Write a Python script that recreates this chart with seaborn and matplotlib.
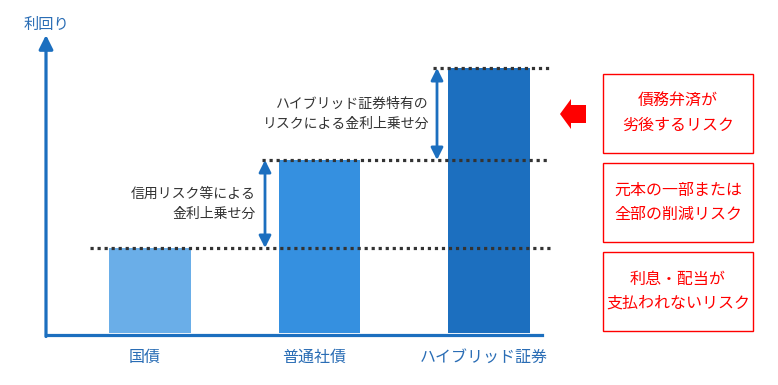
import matplotlib
matplotlib.use("Agg")
import matplotlib.pyplot as plt
import matplotlib.transforms as mtransforms
import seaborn as sns
import pandas as pd
from matplotlib.patches import Rectangle, Polygon

# ---- data ----
categories = ["国債", "普通社債", "ハイブリッド証券"]
yields = [0.85, 1.73, 2.65]
bar_colors = ["#6aaee8", "#3590e0", "#1c6fbf"]
spread_labels = ["信用リスク等による\n金利上乗せ分", "ハイブリッド証券特有の\nリスクによる金利上乗せ分"]
risk_boxes = ["債務弁済が\n劣後するリスク", "元本の一部または\n全部の削減リスク", "利息・配当が\n支払われないリスク"]
y_label = "利回り"

sns.set_theme(style="white")
plt.rcParams["font.family"] = ["Noto Sans CJK JP", "DejaVu Sans"]

W, H = 778, 385
fig = plt.figure(figsize=(W / 100, H / 100), dpi=100)
ax = fig.add_axes([46 / W, 50 / H, (542 - 46) / W, 300 / H])

df = pd.DataFrame({"cat": categories, "val": yields})
sns.barplot(data=df, x="cat", y="val", hue="cat", palette=bar_colors,
            legend=False, width=0.48, ax=ax, saturation=1, edgecolor="none")

px = 169.5
ax.set_xlim((46 - 150) / px, (542 - 150) / px)
ax.set_ylim(-0.02, 2.98)
ax.set_xlabel("")
ax.set_ylabel("")
ax.set_yticks([])
ax.tick_params(axis="x", length=0, pad=10, labelsize=11.5, labelcolor="#2a6db5")
shift = mtransforms.ScaledTranslation(-5 / 100, 0, fig.dpi_scale_trans)
for lbl in ax.get_xticklabels():
    lbl.set_transform(lbl.get_transform() + shift)
for s in ["top", "right", "left"]:
    ax.spines[s].set_visible(False)
ax.spines["bottom"].set_color("#1c6fbf")
ax.spines["bottom"].set_linewidth(2.3)

axis_blue = "#1c6fbf"
# y axis arrow
ax.annotate("", xy=(0, 1.0), xycoords="axes fraction", xytext=(0, -0.005),
            textcoords="axes fraction",
            arrowprops=dict(arrowstyle="-|>,head_width=0.35,head_length=0.7",
                            color=axis_blue, lw=2.3, shrinkA=0, shrinkB=0,
                            mutation_scale=12))
fig.text(24 / W, 1 - 24 / H, y_label, color="#2a6db5", fontsize=11,
         ha="left", va="center")

# dotted reference lines at bar tops
starts = [(90 - 150) / px, (262 - 150) / px, (433 - 150) / px]
end = (550 - 150) / px
for v, s in zip(yields, starts):
    ax.hlines(v, s, end, colors="#333333", linewidth=2.3,
              linestyles=(0, (1, 1.2)), clip_on=False)

# double-headed arrows and annotation texts
arrow_x = [(265 - 150) / px, (437 - 150) / px]
text_x = [(256 - 150) / px, (429 - 150) / px]
for i in range(2):
    ax.annotate("", xy=(arrow_x[i], yields[i + 1]), xytext=(arrow_x[i], yields[i]),
                arrowprops=dict(arrowstyle="<|-|>,head_width=0.3,head_length=0.6",
                                color=axis_blue, lw=2, shrinkA=0, shrinkB=0,
                                mutation_scale=12))
    ax.text(text_x[i], (yields[i] + yields[i + 1]) / 2, spread_labels[i],
            ha="right", va="center", fontsize=10, color="#333333",
            linespacing=1.6)

# red boxes on the right
def fx(x):
    return x / W

def fy(y):
    return 1 - y / H

box_tops = [74, 163, 252]
for top, txt in zip(box_tops, risk_boxes):
    bottom = top + 79
    fig.patches.append(Rectangle((fx(603), fy(bottom)), fx(753) - fx(603),
                                 fy(top) - fy(bottom), transform=fig.transFigure,
                                 fill=False, edgecolor="#ff0000", linewidth=1))
    fig.text(fx(678), fy((top + bottom) / 2), txt, ha="center", va="center",
             color="#ff0000", fontsize=11.5, linespacing=1.5)

# red left-pointing arrow
pts = [(560, 114), (571, 99), (571, 105), (586, 105), (586, 123), (571, 123), (571, 129)]
fig.patches.append(Polygon([(fx(x), fy(y)) for x, y in pts], closed=True,
                           transform=fig.transFigure, facecolor="#ff0000",
                           edgecolor="none"))

fig.savefig("out.png", dpi=100)
